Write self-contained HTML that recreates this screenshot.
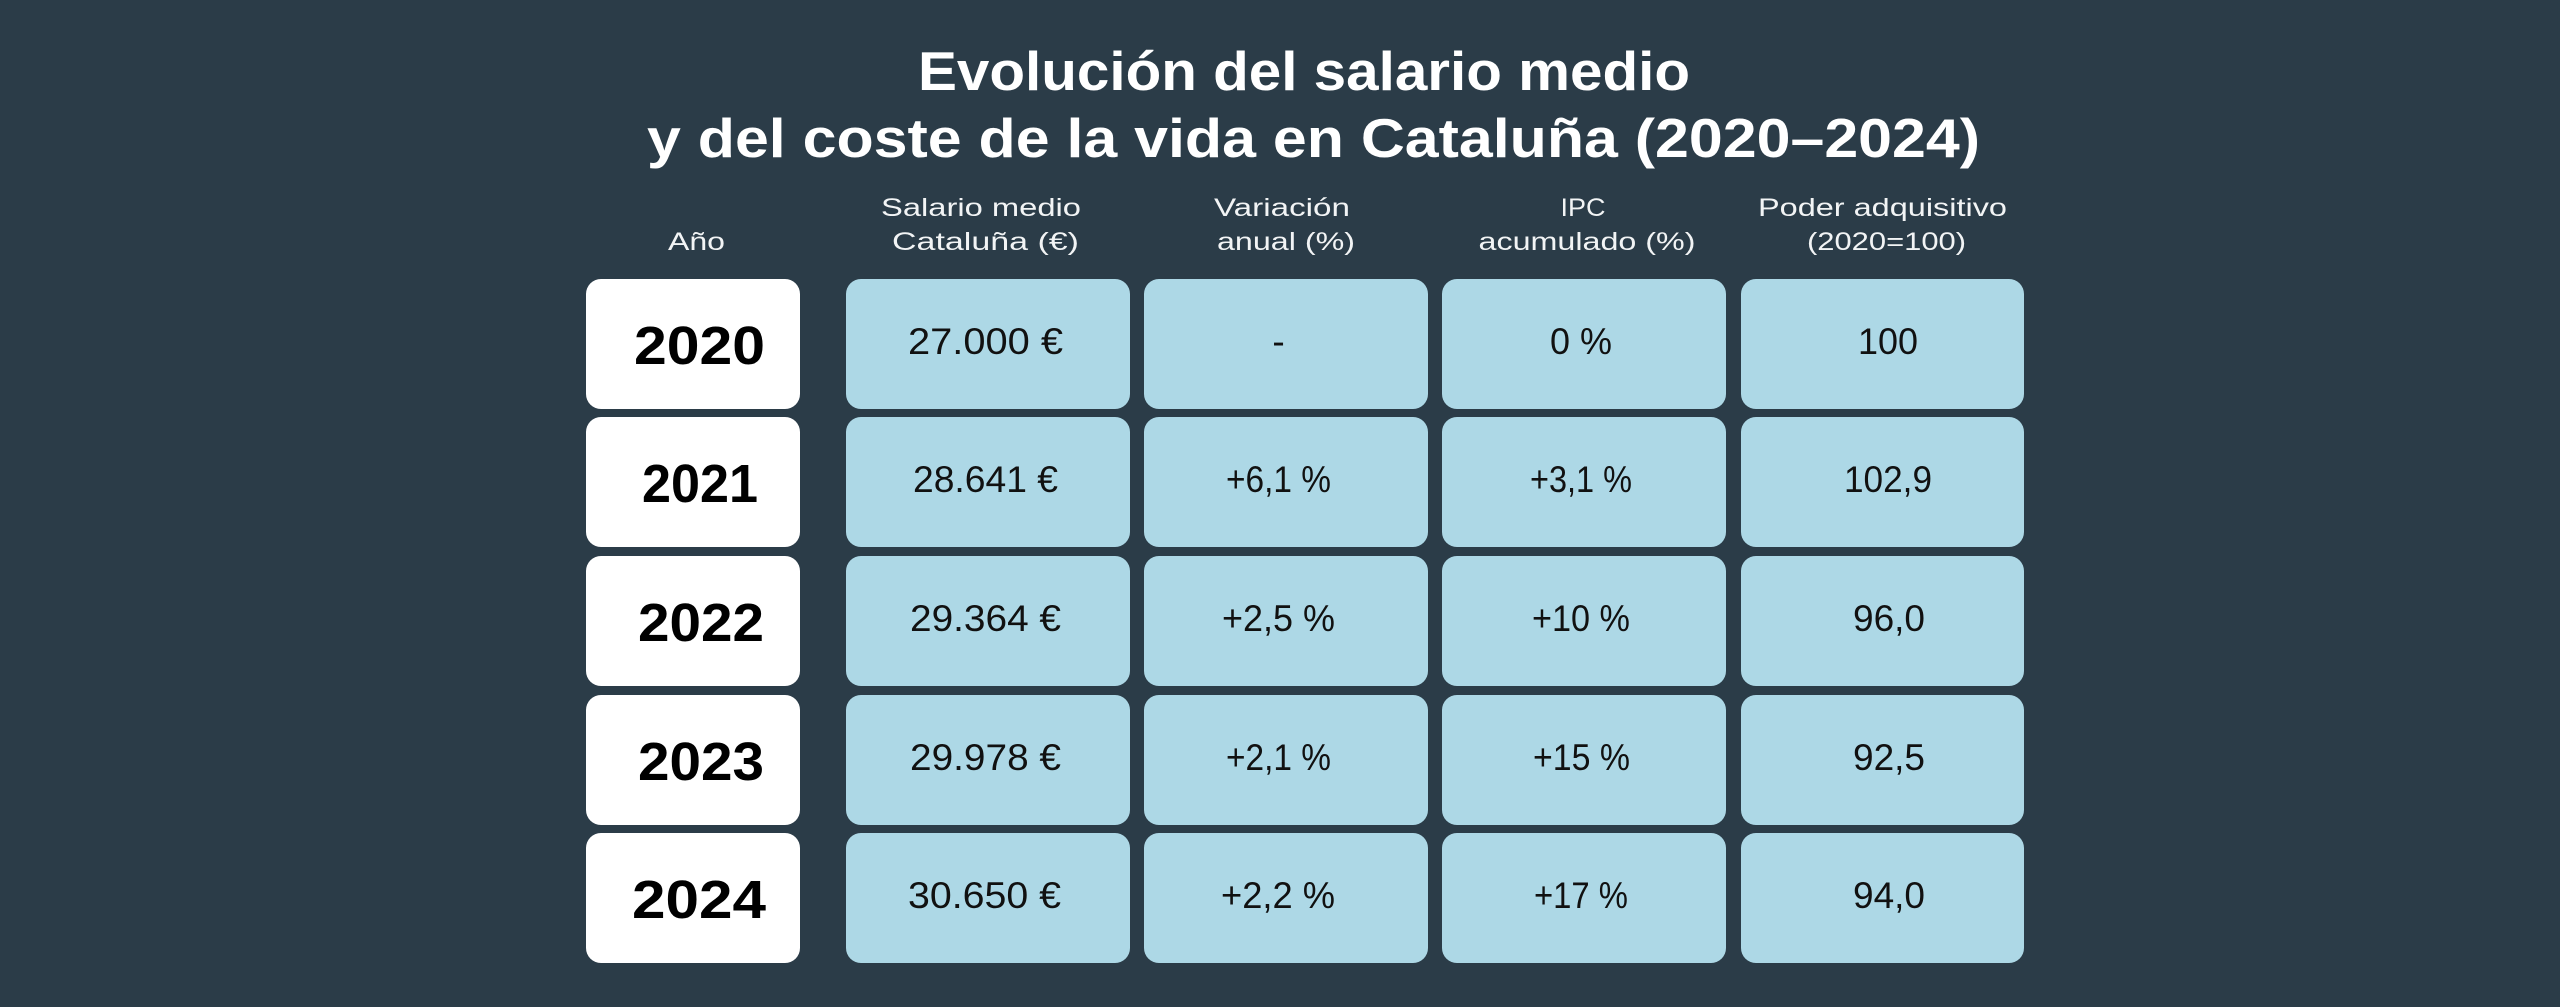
<!DOCTYPE html>
<html>
<head>
<meta charset="utf-8">
<style>
  html, body { margin:0; padding:0; background:#2b3c48; }
  svg { display:block; }
  .t { font-family:"Liberation Sans", sans-serif; font-weight:bold; fill:#ffffff; font-size:55px; }
  .h { font-family:"Liberation Sans", sans-serif; fill:#f2f4f5; font-size:25px; }
  .y { font-family:"Liberation Sans", sans-serif; font-weight:bold; fill:#000; font-size:54px; }
  .c { font-family:"Liberation Sans", sans-serif; fill:#111; font-size:37px; }
</style>
</head>
<body>
<svg width="2560" height="1007" viewBox="0 0 2560 1007" xmlns="http://www.w3.org/2000/svg">
  <rect x="0" y="0" width="2560" height="1007" fill="#2b3c48"/>

  <!-- Title -->
  <text class="t" x="1304" y="90" text-anchor="middle" textLength="772" lengthAdjust="spacingAndGlyphs">Evolución del salario medio</text>
  <text class="t" x="1313.5" y="157" text-anchor="middle" textLength="1333" lengthAdjust="spacingAndGlyphs">y del coste de la vida en Cataluña (2020–2024)</text>

  <!-- Headers -->
  <text class="h" x="696.5" y="250" text-anchor="middle" textLength="57" lengthAdjust="spacingAndGlyphs">Año</text>
  <text class="h" x="981" y="216" text-anchor="middle" textLength="200" lengthAdjust="spacingAndGlyphs">Salario medio</text>
  <text class="h" x="985.5" y="250" text-anchor="middle" textLength="187" lengthAdjust="spacingAndGlyphs">Cataluña (€)</text>
  <text class="h" x="1282" y="216" text-anchor="middle" textLength="136" lengthAdjust="spacingAndGlyphs">Variación</text>
  <text class="h" x="1286" y="250" text-anchor="middle" textLength="138" lengthAdjust="spacingAndGlyphs">anual (%)</text>
  <text class="h" x="1583" y="216" text-anchor="middle" textLength="45" lengthAdjust="spacingAndGlyphs">IPC</text>
  <text class="h" x="1587" y="250" text-anchor="middle" textLength="217" lengthAdjust="spacingAndGlyphs">acumulado (%)</text>
  <text class="h" x="1882.5" y="216" text-anchor="middle" textLength="249" lengthAdjust="spacingAndGlyphs">Poder adquisitivo</text>
  <text class="h" x="1886.5" y="250" text-anchor="middle" textLength="159" lengthAdjust="spacingAndGlyphs">(2020=100)</text>

  <!-- Row 1 -->
  <g>
    <rect x="586" y="279" width="214" height="130" rx="15" fill="#ffffff"/>
    <rect x="846" y="279" width="284" height="130" rx="15" fill="#add8e6"/>
    <rect x="1144" y="279" width="284" height="130" rx="15" fill="#add8e6"/>
    <rect x="1442" y="279" width="284" height="130" rx="15" fill="#add8e6"/>
    <rect x="1741" y="279" width="283" height="130" rx="15" fill="#add8e6"/>
    <text class="y" x="699.5" y="364" text-anchor="middle" textLength="131" lengthAdjust="spacingAndGlyphs">2020</text>
    <text class="c" x="985.5" y="354" text-anchor="middle" textLength="155" lengthAdjust="spacingAndGlyphs">27.000 €</text>
    <text class="c" x="1278.5" y="354" text-anchor="middle">-</text>
    <text class="c" x="1581" y="354" text-anchor="middle" textLength="62" lengthAdjust="spacingAndGlyphs">0 %</text>
    <text class="c" x="1888" y="354" text-anchor="middle" textLength="60" lengthAdjust="spacingAndGlyphs">100</text>
  </g>

  <!-- Row 2 -->
  <g>
    <rect x="586" y="417" width="214" height="130" rx="15" fill="#ffffff"/>
    <rect x="846" y="417" width="284" height="130" rx="15" fill="#add8e6"/>
    <rect x="1144" y="417" width="284" height="130" rx="15" fill="#add8e6"/>
    <rect x="1442" y="417" width="284" height="130" rx="15" fill="#add8e6"/>
    <rect x="1741" y="417" width="283" height="130" rx="15" fill="#add8e6"/>
    <text class="y" x="700" y="502" text-anchor="middle" textLength="116" lengthAdjust="spacingAndGlyphs">2021</text>
    <text class="c" x="985.5" y="492" text-anchor="middle" textLength="145" lengthAdjust="spacingAndGlyphs">28.641 €</text>
    <text class="c" x="1278.5" y="492" text-anchor="middle" textLength="105" lengthAdjust="spacingAndGlyphs">+6,1 %</text>
    <text class="c" x="1581" y="492" text-anchor="middle" textLength="102" lengthAdjust="spacingAndGlyphs">+3,1 %</text>
    <text class="c" x="1888" y="492" text-anchor="middle" textLength="88" lengthAdjust="spacingAndGlyphs">102,9</text>
  </g>

  <!-- Row 3 -->
  <g>
    <rect x="586" y="556" width="214" height="130" rx="15" fill="#ffffff"/>
    <rect x="846" y="556" width="284" height="130" rx="15" fill="#add8e6"/>
    <rect x="1144" y="556" width="284" height="130" rx="15" fill="#add8e6"/>
    <rect x="1442" y="556" width="284" height="130" rx="15" fill="#add8e6"/>
    <rect x="1741" y="556" width="283" height="130" rx="15" fill="#add8e6"/>
    <text class="y" x="701" y="641" text-anchor="middle" textLength="126" lengthAdjust="spacingAndGlyphs">2022</text>
    <text class="c" x="985.5" y="631" text-anchor="middle" textLength="151" lengthAdjust="spacingAndGlyphs">29.364 €</text>
    <text class="c" x="1278.5" y="631" text-anchor="middle" textLength="113" lengthAdjust="spacingAndGlyphs">+2,5 %</text>
    <text class="c" x="1581" y="631" text-anchor="middle" textLength="98" lengthAdjust="spacingAndGlyphs">+10 %</text>
    <text class="c" x="1889" y="631" text-anchor="middle" textLength="72" lengthAdjust="spacingAndGlyphs">96,0</text>
  </g>

  <!-- Row 4 -->
  <g>
    <rect x="586" y="695" width="214" height="130" rx="15" fill="#ffffff"/>
    <rect x="846" y="695" width="284" height="130" rx="15" fill="#add8e6"/>
    <rect x="1144" y="695" width="284" height="130" rx="15" fill="#add8e6"/>
    <rect x="1442" y="695" width="284" height="130" rx="15" fill="#add8e6"/>
    <rect x="1741" y="695" width="283" height="130" rx="15" fill="#add8e6"/>
    <text class="y" x="701" y="780" text-anchor="middle" textLength="126" lengthAdjust="spacingAndGlyphs">2023</text>
    <text class="c" x="985.5" y="770" text-anchor="middle" textLength="151" lengthAdjust="spacingAndGlyphs">29.978 €</text>
    <text class="c" x="1278.5" y="770" text-anchor="middle" textLength="105" lengthAdjust="spacingAndGlyphs">+2,1 %</text>
    <text class="c" x="1581.5" y="770" text-anchor="middle" textLength="97" lengthAdjust="spacingAndGlyphs">+15 %</text>
    <text class="c" x="1889" y="770" text-anchor="middle" textLength="72" lengthAdjust="spacingAndGlyphs">92,5</text>
  </g>

  <!-- Row 5 -->
  <g>
    <rect x="586" y="833" width="214" height="130" rx="15" fill="#ffffff"/>
    <rect x="846" y="833" width="284" height="130" rx="15" fill="#add8e6"/>
    <rect x="1144" y="833" width="284" height="130" rx="15" fill="#add8e6"/>
    <rect x="1442" y="833" width="284" height="130" rx="15" fill="#add8e6"/>
    <rect x="1741" y="833" width="283" height="130" rx="15" fill="#add8e6"/>
    <text class="y" x="699" y="918" text-anchor="middle" textLength="134" lengthAdjust="spacingAndGlyphs">2024</text>
    <text class="c" x="984.5" y="908" text-anchor="middle" textLength="153" lengthAdjust="spacingAndGlyphs">30.650 €</text>
    <text class="c" x="1278" y="908" text-anchor="middle" textLength="114" lengthAdjust="spacingAndGlyphs">+2,2 %</text>
    <text class="c" x="1581" y="908" text-anchor="middle" textLength="94" lengthAdjust="spacingAndGlyphs">+17 %</text>
    <text class="c" x="1889" y="908" text-anchor="middle" textLength="72" lengthAdjust="spacingAndGlyphs">94,0</text>
  </g>
</svg>
</body>
</html>
